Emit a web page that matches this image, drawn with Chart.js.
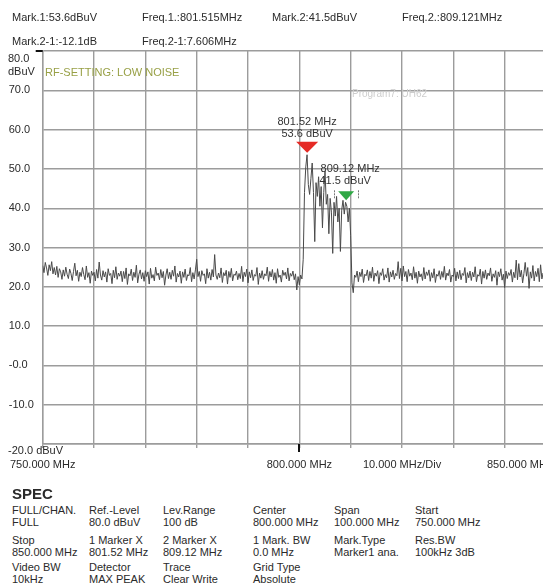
<!DOCTYPE html>
<html>
<head>
<meta charset="utf-8">
<script src="https://cdn.jsdelivr.net/npm/chart.js@4/dist/chart.umd.min.js"></script>
<style>
  html, body { margin: 0; padding: 0; background: #fff; overflow: hidden; width: 543px; height: 585px; }
  body { position: relative; font-family: "Liberation Sans", Arial, sans-serif; font-size: 11px; color: #2a2a2a; }
  #wrap { position: absolute; left: 0; top: 0; width: 600px; height: 480px; }
  .t { position: absolute; white-space: nowrap; line-height: 12px; }
  .spec { position: absolute; white-space: nowrap; line-height: 12px; }
</style>
</head>
<body>
<div id="wrap"><canvas id="spectrum" width="600" height="480"></canvas></div>
<div id="texts"></div>

<script>
// Trace: level in dBuV, one sample every 0.25 MHz from 750 MHz
const traceStartMHz = 750;
const traceStepMHz = 0.25;
const traceLevels = [
  // 750 - 799.75 MHz
  25.4, 23.6, 26.2, 24.8, 22.9, 25.6, 24.1, 26.4, 23.3, 24.9,
  23.0, 25.2, 22.4, 24.6, 23.8, 21.9, 24.3, 22.7, 25.0, 23.2,
  22.1, 24.5, 23.4, 21.6, 23.9, 26.0, 22.8, 24.2, 21.4, 23.7,
  22.6, 24.9, 23.1, 21.8, 25.3, 22.4, 23.6, 20.9, 24.0, 22.9,
  23.7, 21.5, 24.4, 22.2, 26.3, 23.0, 21.7, 24.1, 22.5, 23.8,
  21.2, 24.6, 22.9, 23.4, 20.8, 24.2, 22.3, 25.1, 21.9, 23.5,
  22.7, 24.0, 21.3, 23.9, 22.1, 24.8, 20.6, 23.3, 22.8, 24.5,
  21.6, 23.7, 22.4, 25.5, 21.0, 23.2, 24.3, 22.0, 23.6, 21.4,
  24.1, 22.6, 23.8, 20.7, 24.7, 22.2, 23.1, 21.5, 25.0, 22.9,
  23.5, 21.8, 24.4, 22.3, 23.9, 20.4, 23.0, 24.6, 22.1, 23.7,
  21.9, 24.2, 22.7, 25.3, 21.2, 23.4, 22.5, 24.0, 20.9, 23.8,
  22.4, 24.5, 21.6, 23.1, 22.8, 24.9, 21.3, 23.6, 22.0, 24.3,
  27.0, 22.6, 23.9, 21.4, 24.1, 22.9, 23.3, 20.8, 24.6, 22.2,
  23.7, 21.7, 24.4, 22.5, 28.2, 23.0, 21.9, 23.5, 22.3, 24.8,
  21.1, 23.6, 22.8, 24.2, 20.7, 23.9, 22.4, 24.7, 21.5, 23.2,
  22.9, 24.0, 21.8, 23.4, 22.1, 25.2, 21.3, 23.7, 22.6, 24.5,
  21.0, 23.8, 22.3, 24.3, 21.6, 23.1, 22.7, 24.9, 20.6, 23.5,
  22.2, 24.1, 21.9, 23.3, 22.8, 25.0, 21.4, 23.9, 22.5, 24.4,
  21.7, 23.6, 20.9, 24.6, 22.4, 23.0, 21.2, 24.2, 22.9, 23.7,
  22.0, 24.8, 21.5, 23.4, 22.7, 24.0, 21.8, 23.3, 19.2, 22.6,
  // 800 - 810.75 MHz (channel)
  20.5, 23.0, 22.0, 27.0, 44.0, 50.5, 53.6, 46.0, 43.5, 47.5,
  51.5, 44.0, 31.5, 46.5, 43.0, 48.0, 40.5, 45.5, 35.0, 44.0,
  49.5, 41.0, 43.5, 33.5, 42.5, 39.0, 28.5, 41.5, 38.0, 43.0,
  36.5, 40.0, 29.0, 39.5, 42.0, 38.5, 41.5, 40.5, 36.5, 40.0,
  33.0, 21.0, 18.5, 23.0,
  // 811 - 850 MHz
  22.4, 24.0, 21.3, 23.7, 22.6, 24.5, 21.1, 23.2, 22.8, 24.3,
  21.6, 23.9, 22.2, 25.0, 21.4, 23.5, 22.7, 24.1, 20.8, 23.6,
  22.9, 24.6, 21.7, 23.1, 22.3, 24.8, 21.2, 23.8, 22.5, 24.2,
  21.9, 23.4, 22.8, 26.4, 22.1, 24.7, 21.5, 25.3, 22.6, 23.9,
  21.3, 24.4, 22.7, 23.5, 21.8, 25.1, 22.2, 23.7, 20.9, 24.0,
  22.5, 23.3, 21.6, 24.9, 22.0, 23.8, 22.9, 24.3, 21.4, 23.6,
  22.3, 24.6, 21.1, 23.2, 22.7, 24.1, 21.9, 23.9, 22.4, 25.2,
  21.7, 23.5, 22.8, 24.4, 21.2, 23.0, 22.6, 24.7, 21.5, 23.8,
  22.1, 24.2, 21.8, 23.4, 22.9, 24.9, 21.0, 23.6, 22.3, 24.0,
  21.6, 23.7, 22.5, 25.1, 21.3, 23.1, 22.7, 24.5, 20.7, 23.9,
  22.2, 24.3, 21.9, 23.5, 22.8, 24.8, 21.4, 23.3, 22.4, 24.1,
  20.4, 23.8, 22.6, 24.6, 21.7, 23.2, 19.8, 24.0, 22.1, 23.6,
  22.9, 24.4, 21.2, 23.7, 22.3, 26.8, 21.8, 25.9, 22.5, 24.2,
  21.0, 23.4, 26.2, 22.7, 24.9, 19.6, 23.8, 22.2, 25.4, 21.5,
  23.9, 22.6, 24.7, 21.3, 25.6, 22.0, 23.5, 20.6, 24.8, 22.8,
  23.1, 21.7, 24.5, 22.3, 25.1, 21.9, 23.6
];

// Markers
const markerFreqs = [801.52, 809.12];
const markerLevels = [53.6, 41.5];
const markerLabels = [["801.52 MHz", "53.6 dBuV"], ["809.12 MHz", "41.5 dBuV"]];
const markerColors = ["#e52a25", "#2fa845"];

// Axis labels (80, -20 and 850 are placed off the tick by the instrument, see texts below)
const xLabelValues = [750, 800, 820];
const xLabelTexts = ["750.000 MHz", "800.000 MHz", "10.000 MHz/Div"];
const yTickValues = [-10, 0, 10, 20, 30, 40, 50, 60, 70];
const yTickTexts = ["-10.0", "-0.0", "10.0", "20.0", "30.0", "40.0", "50.0", "60.0", "70.0"];

// Header readouts
const headerRow1 = ["Mark.1:53.6dBuV", "Freq.1.:801.515MHz", "Mark.2:41.5dBuV", "Freq.2.:809.121MHz"];
const headerRow2 = ["Mark.2-1:-12.1dB", "Freq.2-1:7.606MHz"];

// SPEC table (name / value pairs)
const specNames = [
  ["FULL/CHAN.", "Ref.-Level", "Lev.Range", "Center", "Span", "Start"],
  ["Stop", "1 Marker X", "2 Marker X", "1 Mark. BW", "Mark.Type", "Res.BW"],
  ["Video BW", "Detector", "Trace", "Grid Type"]
];
const specValues = [
  ["FULL", "80.0 dBuV", "100 dB", "800.000 MHz", "100.000 MHz", "750.000 MHz"],
  ["850.000 MHz", "801.52 MHz", "809.12 MHz", "0.0 MHz", "Marker1 ana.", "100kHz 3dB"],
  ["10kHz", "MAX PEAK", "Clear Write", "Absolute"]
];

// ---- static texts ----
const texts = document.getElementById("texts");
function addText(str, x, y, cls, extra) {
  let d = document.createElement("div");
  d.className = cls || "t";
  d.textContent = str;
  d.style.left = x + "px";
  d.style.top = y + "px";
  if (extra) Object.assign(d.style, extra);
  texts.appendChild(d);
}
const headerCols = [12, 142, 272, 402];
headerRow1.forEach((s, i) => addText(s, headerCols[i], 11));
headerRow2.forEach((s, i) => addText(s, headerCols[i], 35));
addText("80.0", 8, 52);
addText("dBuV", 8, 65);
addText("-20.0 dBuV", 8, 444);
addText("850.000 MHz", 487, 458);
addText("RF-SETTING: LOW NOISE", 45, 66, "t", { color: "#98a046" });
addText("Program7: UH62", 352, 88, "t", { color: "#cdcdcd", fontSize: "10px" });

addText("SPEC", 12, 486, "t", { fontWeight: "bold", fontSize: "15px", lineHeight: "16px" });
const specCols = [12, 89, 163, 253, 334, 415];
const specRowTop = [504, 534, 561];
specNames.forEach((row, r) => {
  row.forEach((name, c) => {
    addText(name, specCols[c], specRowTop[r], "spec");
    addText(specValues[r][c], specCols[c], specRowTop[r] + 12, "spec");
  });
});

// ---- chart ----
const gridColor = "#9c9c9c";
const font = { family: "'Liberation Sans', Arial, sans-serif", size: 11 };

const overlay = {
  id: "overlay",
  afterDatasetsDraw(chart) {
    const ctx = chart.ctx;
    const xs = chart.scales.x, ys = chart.scales.y;
    ctx.save();
    // black reference marks: top-left level and centre frequency
    ctx.fillStyle = "#111";
    ctx.fillRect(chart.chartArea.left - 7, ys.getPixelForValue(80) - 1, 7, 2);
    ctx.fillRect(Math.round(xs.getPixelForValue(800)) - 1, chart.chartArea.bottom, 2, 8);

    markerFreqs.forEach((f, i) => {
      const px = xs.getPixelForValue(f);
      const py = ys.getPixelForValue(markerLevels[i]) - 2;
      const hw = i === 0 ? 11 : 8;
      const h = i === 0 ? 11 : 9;
      ctx.fillStyle = markerColors[i];
      ctx.beginPath();
      ctx.moveTo(px - hw, py - h);
      ctx.lineTo(px + hw, py - h);
      ctx.lineTo(px, py);
      ctx.closePath();
      ctx.fill();
      if (i === 1) {
        // small bandwidth ticks beside marker 2
        ctx.strokeStyle = "#777";
        ctx.lineWidth = 1;
        ctx.setLineDash([2, 1]);
        [-2.4, 2.3].forEach(d => {
          const bx = Math.round(xs.getPixelForValue(f + d)) + 0.5;
          ctx.beginPath();
          ctx.moveTo(bx, py - 10);
          ctx.lineTo(bx, py - 2);
          ctx.stroke();
        });
        ctx.setLineDash([]);
      }
      ctx.fillStyle = "#333";
      ctx.font = "11px 'Liberation Sans', Arial, sans-serif";
      ctx.textAlign = "center";
      ctx.textBaseline = "middle";
      ctx.fillText(markerLabels[i][0], px + (i === 0 ? 0 : 4), py - 31);
      ctx.fillText(markerLabels[i][1], px + (i === 0 ? 0 : -1), py - 19);
    });
    ctx.restore();
  }
};

new Chart(document.getElementById("spectrum"), {
  type: "line",
  data: {
    datasets: [{
      data: traceLevels.map((v, i) => ({ x: traceStartMHz + i * traceStepMHz, y: v })),
      borderColor: "#4a4a4a",
      borderWidth: 1,
      pointRadius: 0,
      tension: 0
    }]
  },
  options: {
    responsive: false,
    devicePixelRatio: 1,
    animation: false,
    layout: { padding: { top: 51, left: 8, right: 44, bottom: 6 } },
    plugins: { legend: { display: false }, tooltip: { enabled: false } },
    scales: {
      x: {
        type: "linear",
        min: 750,
        max: 850,
        afterFit: s => { s.height = 30; },
        grid: { color: gridColor, tickColor: gridColor, tickLength: 4, lineWidth: 1.4 },
        border: { color: gridColor, width: 1.4 },
        ticks: {
          stepSize: 10,
          autoSkip: false,
          maxRotation: 0,
          padding: 10,
          color: "#2a2a2a",
          font: font,
          callback: v => {
            let k = xLabelValues.indexOf(v);
            return k >= 0 ? xLabelTexts[k] : "";
          }
        }
      },
      y: {
        min: -20,
        max: 80,
        afterFit: s => { s.width = 34; },
        grid: { color: gridColor, drawTicks: false, lineWidth: 1.4 },
        border: { color: gridColor, width: 1.4 },
        ticks: {
          stepSize: 10,
          crossAlign: "far",
          color: "#2a2a2a",
          font: font,
          callback: v => {
            let k = yTickValues.indexOf(v);
            return k >= 0 ? yTickTexts[k] : "";
          }
        }
      }
    }
  },
  plugins: [overlay]
});
</script>
</body>
</html>
